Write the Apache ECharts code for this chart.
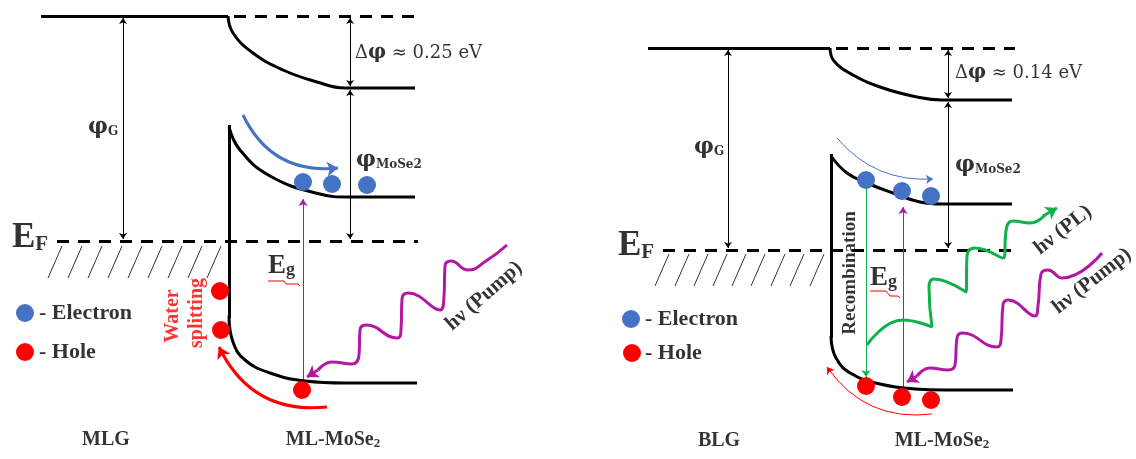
<!DOCTYPE html>
<html><head><meta charset="utf-8">
<script src="https://cdn.jsdelivr.net/npm/echarts@6/dist/echarts.min.js"></script>
<style>html,body{margin:0;padding:0;background:#fff}#c{width:1136px;height:459px}</style>
</head><body><div id="c"></div>
<script>
// ===== diagram data (units = positions on hidden value axes) =====
// band levels (solid straight)
const grapheneLevels = [[[41,16],[228,16]], [[648,48],[830,48]]];
// dashed reference levels (vacuum / Fermi)
const dashedLevels = [[[234,16],[420,16]], [[57,241],[418,241]], [[836,48],[1015,48]], [[663,250],[1013,250]]];
// band-bending curves
const leftVacCurve  = [[228,16],[233,33],[253,53],[283,70],[317,82],[345,88],[415,88]];
const leftCBCurve   = [[229,127],[240,150],[270,176],[320,194],[348,197],[415,197]];
const leftVBEdge    = [[229,125],[229,318]];
const leftVBCurve   = [[229,316],[233,342],[245,360],[270,373],[305,381],[345,383],[417,383]];
const rightVacCurve = [[830,48],[834,61],[853,75],[883,88],[917,97],[942,100],[1012,100]];
const rightCBCurve  = [[831,156],[847,173],[867,183],[893,193],[920,202],[942,204],[1012,204]];
const rightVBEdge   = [[831,154],[831,338]];
const rightVBCurve  = [[831,336],[836,358],[852,374],[880,384],[915,389],[945,390],[1013,390]];
// hatch under E_F (bottom x of each stroke)
const hatchLeftX  = [48,68,88,108,128,148,168,188,207];
const hatchRightX = [655,675,694,713,732,751,771,790,810];
const hatchLeftY  = [278,246];
const hatchRightY = [286,254];
// double-headed measurement arrows
const measureArrows = [
  [[123,18],[123,239]], [[350,18],[350,86]], [[350,90],[350,239]],
  [[728,50],[728,248]], [[948,50],[948,98]], [[948,102],[948,248]]
];
// transitions
const pumpVertical = [[[303,383],[303,199]], [[903,389],[903,207]]];
const recombVertical = [[[866,188],[866,377]]];
// photon waves
const leftPumpWave  = [[507,245],[486,261],[468,270],[451,261],[445,266],[444,296],[440,310],[408,293],[402,299],[401,330],[397,338],[366,325],[360,330],[359,355],[352,364],[332,362],[318,370]];
const rightPumpWave = [[1102,253],[1062,278],[1048,270],[1041,274],[1038,306],[1035,316],[1008,300],[1003,305],[1001,340],[997,347],[962,333],[957,338],[955,365],[948,370],[930,368],[917,376]];
const plWave        = [[867,345],[903,320],[932,327],[929,287],[934,279],[966,292],[967,256],[975,248],[1003,258],[1007,226],[1013,221],[1030,223],[1045,215]];
const pumpHeads = [[[318,370],[307,377]], [[917,376],[907,382]]];
const plHeads   = [[[1043,216],[1057,208]]];
// carrier-drift curved arrows
const driftElectronThick = [[[243,115],[338,168]]];
const driftHoleThick     = [[[327,407],[219,347]]];
const driftElectronThin  = [[[837,138],[933,179]]];
const driftHoleThin      = [[[932,414],[827,367]]];
// carriers
const electrons = [[303,182],[332,184],[367,185],[866,180],[902,191],[931,196],[25,313],[631,319]];
const holes     = [[220,291],[221,330],[302,390],[866,386],[902,397],[931,400],[25,352],[632,353]];
// spell-check squiggles under E_g
const squiggleLeft  = [[268,281],[270,283],[272,281],[274,283],[276,281],[278,283],[280,281],[282,283],[284,281],[286,284],[288,286],[290,284],[292,286],[294,284],[296,286],[298,284],[300,286]];
const squiggleRight = [[870,291],[872,293],[874,291],[876,293],[878,291],[880,293],[882,291],[884,293],[886,291],[888,293],[890,296],[892,298],[894,296],[896,298],[898,296],[900,298]];
// texts
const phiLabels   = [[88,127,'φ','G'],[356,160,'φ','MoSe2'],[694,147,'φ','G'],[955,165,'φ','MoSe2']];
const deltaLabels = [[355,53,'0.25 eV'],[955,73,'0.14 eV']];
const fermiLabels = [[12,238,'E','F'],[618,246,'E','F']];
const gapLabels   = [[268,266,'E','g'],[870,278,'E','g']];
const legendLabels = [[39,313,'- Electron'],[39,352,'- Hole'],[645,319,'- Electron'],[645,353,'- Hole']];
const materialLabels = [[106,440,'MLG',''],[333,440,'ML-MoSe','2'],[719,441,'BLG',''],[942,441,'ML-MoSe','2']];
const photonLabels = [[484,296,'hν (Pump)',41],[1063,230,'hν (PL)',38],[1092,281,'hν (Pump)',38]];
const waterLabels  = [[173,316,'Water'],[197,313,'splitting']];
const recombLabels = [[850,273,'Recombination']];

// ===== build =====
const serif = "'Liberation Serif','Times New Roman',serif";
const BLACK='#000', MAG='#B318A0', GREEN='#12B04A', BLUE='#4472C4', RED='#FF0000';

function segs(list){ return list.map(c=>({coords:c})); }
function lineSeg(list, style, sym, symSize){
  return {type:'lines', coordinateSystem:'cartesian2d', silent:true, polyline:false,
    data:segs(list), lineStyle:Object.assign({opacity:1},style),
    symbol: sym||['none','none'], symbolSize: symSize||8, effect:{show:false}};
}
function curve(pts, color, width, smooth){
  return {type:'line', data:pts, showSymbol:false, silent:true, smooth:smooth,
    lineStyle:{color:color, width:width}, z:3};
}
function hatch(xs, ys){ return xs.map(x=>[[x,ys[0]],[x+14,ys[1]]]); }
function textSeries(items, labelBase, rich){
  return {type:'scatter', symbolSize:0, silent:true, z:10,
    data: items.map(it=>({value:[it.x,it.y], label:{formatter:it.t, rotate:it.r||0}})),
    label:Object.assign({show:true, position:[0,0], color:BLACK, fontFamily:serif, fontWeight:'bold',
      align:'left', verticalAlign:'middle', rich:rich||{}}, labelBase)};
}

const series = [];
series.push(lineSeg(grapheneLevels,{color:BLACK,width:3}));
series.push(lineSeg(dashedLevels,{color:BLACK,width:3,type:[12,9]}));
[leftVacCurve,leftCBCurve,leftVBCurve,rightVacCurve,rightCBCurve,rightVBCurve].forEach(c=>series.push(curve(c,BLACK,3,0.45)));
series.push(lineSeg([leftVBEdge,rightVBEdge],{color:BLACK,width:3}));
series.push(lineSeg(hatch(hatchLeftX,hatchLeftY).concat(hatch(hatchRightX,hatchRightY)),{color:'#333',width:1}));
series.push(lineSeg(measureArrows,{color:BLACK,width:1},['arrow','arrow'],6));
series.push(lineSeg(pumpVertical,{color:MAG,width:1},['none','arrow'],7));
series.push(lineSeg(recombVertical,{color:GREEN,width:1},['none','arrow'],7));
series.push(curve(leftPumpWave,MAG,3,0.5));
series.push(curve(rightPumpWave,MAG,3,0.5));
series.push(curve(plWave,GREEN,3,0.5));
series.push(lineSeg(pumpHeads,{color:MAG,width:3},['none','arrow'],11));
series.push(lineSeg(plHeads,{color:GREEN,width:3},['none','arrow'],11));
series.push(lineSeg(driftElectronThick,{color:BLUE,width:3,curveness:-0.35},['none','arrow'],11));
series.push(lineSeg(driftHoleThick,{color:RED,width:3,curveness:0.35},['none','arrow'],11));
series.push(lineSeg(driftElectronThin,{color:BLUE,width:1,curveness:-0.25},['none','arrow'],7));
series.push(lineSeg(driftHoleThin,{color:RED,width:1,curveness:0.3},['none','arrow'],7));
series.push(curve(squiggleLeft,RED,1,false));
series.push(curve(squiggleRight,RED,1,false));
series.push({type:'scatter',data:electrons,symbolSize:18,itemStyle:{color:BLUE,opacity:1},silent:true,z:5});
series.push({type:'scatter',data:holes,symbolSize:18,itemStyle:{color:RED,opacity:1},silent:true,z:5});

series.push(textSeries(phiLabels.map(a=>({x:a[0],y:a[1],t:'{p|'+a[2]+'}{s|'+a[3]+'}'})),{},
  {p:{fontFamily:'DejaVu Serif',fontWeight:'bold',fontSize:22,color:BLACK},
   s:{fontFamily:'DejaVu Serif',fontWeight:'bold',fontSize:12,color:BLACK,verticalAlign:'bottom'}}));
series.push(textSeries(deltaLabels.map(a=>({x:a[0],y:a[1],t:'{n|Δ}{q|φ}{n| ≈ '+a[2]+'}'})),{},
  {n:{fontFamily:'DejaVu Serif',fontWeight:'normal',fontSize:18,color:BLACK},
   q:{fontFamily:'DejaVu Serif',fontWeight:'bold',fontSize:20,color:BLACK}}));
series.push(textSeries(fermiLabels.map(a=>({x:a[0],y:a[1],t:'{e|'+a[2]+'}{f|'+a[3]+'}'})),{},
  {e:{fontFamily:serif,fontWeight:'bold',fontSize:35,color:BLACK},
   f:{fontFamily:serif,fontWeight:'bold',fontSize:21,color:BLACK,verticalAlign:'bottom'}}));
series.push(textSeries(gapLabels.map(a=>({x:a[0],y:a[1],t:'{e|'+a[2]+'}{f|'+a[3]+'}'})),{},
  {e:{fontFamily:serif,fontWeight:'bold',fontSize:27,color:BLACK},
   f:{fontFamily:serif,fontWeight:'bold',fontSize:18,color:BLACK,verticalAlign:'bottom'}}));
series.push(textSeries(legendLabels.map(a=>({x:a[0],y:a[1],t:a[2]})),{fontSize:22}));
series.push(textSeries(materialLabels.map(a=>({x:a[0],y:a[1],t:a[3]?'{m|'+a[2]+'}{u|'+a[3]+'}':'{m|'+a[2]+'}'})),{align:'center'},
  {m:{fontFamily:serif,fontWeight:'bold',fontSize:20,color:BLACK},
   u:{fontFamily:serif,fontWeight:'bold',fontSize:13,color:BLACK,verticalAlign:'bottom'}}));
series.push(textSeries(photonLabels.map(a=>({x:a[0],y:a[1],t:a[2],r:a[3]})),{fontSize:21,align:'center'}));
series.push(textSeries(waterLabels.map(a=>({x:a[0],y:a[1],t:a[2],r:90})),{fontSize:20,align:'center',color:RED}));
series.push(textSeries(recombLabels.map(a=>({x:a[0],y:a[1],t:a[2],r:90})),{fontSize:19,align:'center'}));

const chart = echarts.init(document.getElementById('c'));
chart.setOption({
  animation:false,
  backgroundColor:'#fff',
  grid:{left:0,right:0,top:0,bottom:0},
  xAxis:{type:'value',min:0,max:1136,show:false},
  yAxis:{type:'value',min:0,max:459,inverse:true,show:false},
  series:series
});
</script></body></html>
